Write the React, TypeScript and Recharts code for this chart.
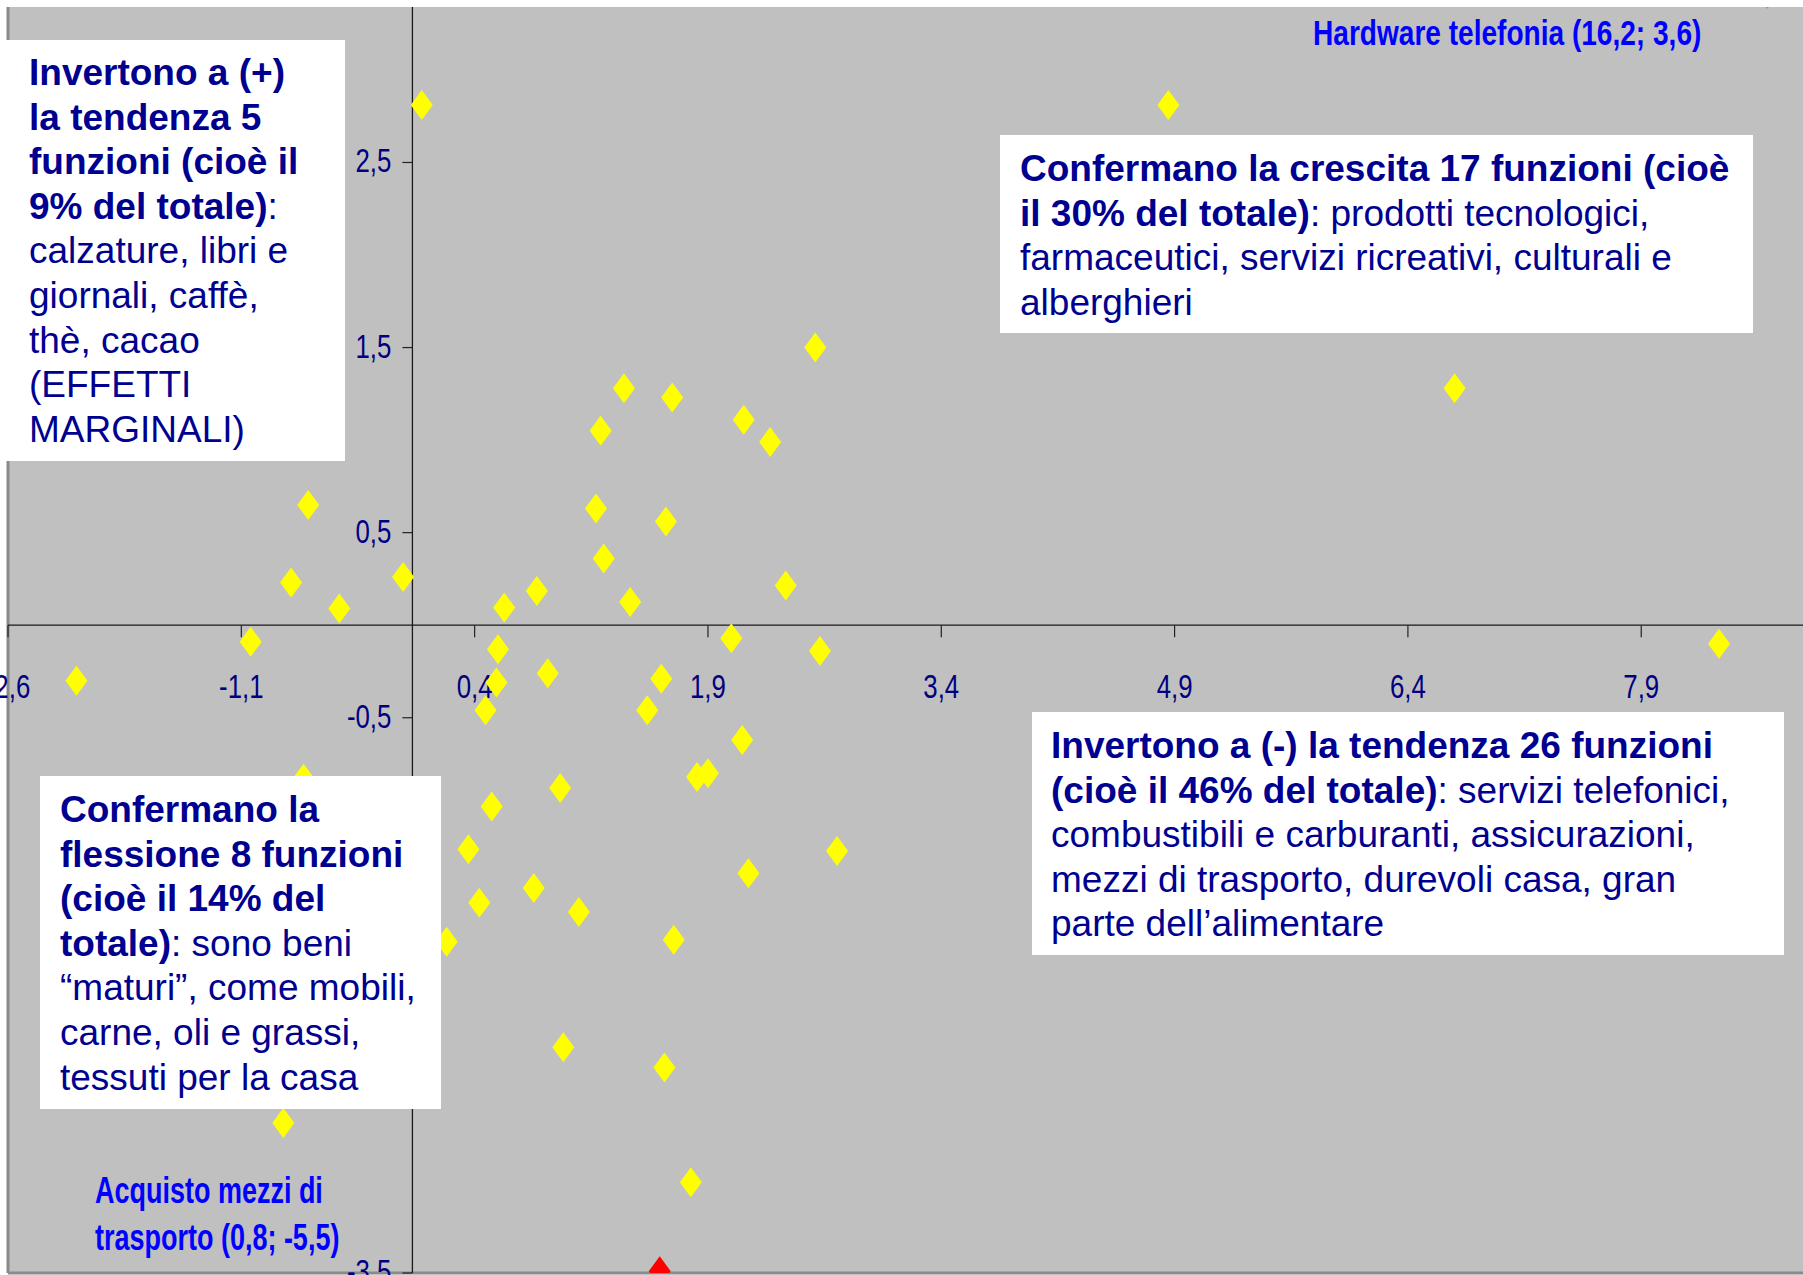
import React from 'react';
import {
  ScatterChart,
  Scatter,
  XAxis,
  YAxis,
  CartesianGrid,
  ReferenceLine,
  ReferenceDot,
} from 'recharts';

// ---- data ----
const xTickValues = [-2.6, -1.1, 0.4, 1.9, 3.4, 4.9, 6.4, 7.9];
const yTickValues = [2.5, 1.5, 0.5, -0.5, -1.5, -2.5, -3.5];

const yellowX = [
  0.06, 4.86, 2.59, 6.7, 1.36, 1.67, 1.21, 2.13, 2.3, 1.18, 1.63, 1.23, -0.06, 0.8, 0.59, 1.4, 2.4,
  -0.67, -0.78, -0.47, -1.04, -2.16, -0.7, -0.83,
  2.05, 2.62, 0.55, 0.87, 0.54, 1.6, 0.47, 1.51, 2.12, 1.83, 1.9, 0.95, 0.51, 0.36, 2.73, 2.16,
  0.78, 0.43, 1.07, 0.22, 1.68, 0.97, 1.62, 1.79, 8.4,
];
const yellowY = [
  2.81, 2.81, 1.5, 1.28, 1.28, 1.23, 1.05, 1.11, 0.99, 0.63, 0.56, 0.36, 0.26, 0.185, 0.095, 0.125, 0.215,
  0.65, 0.23, 0.09, -0.09, -0.3, -0.83, -2.69,
  -0.07, -0.14, -0.13, -0.26, -0.31, -0.29, -0.46, -0.46, -0.62, -0.82, -0.8, -0.88, -0.98, -1.21, -1.22, -1.34,
  -1.42, -1.5, -1.55, -1.71, -1.7, -2.28, -2.39, -3.01, -0.1,
];
const redX = [1.59];
const redY = [-3.49];
const greenX = [8.71];
const greenY = [3.41];

const X_DOMAIN: [number, number] = [-2.6, 8.94];
const Y_DOMAIN: [number, number] = [-3.5, 3.34];

const yellowData = yellowX.map((x, i) => ({ x, y: yellowY[i] }));
const redData = redX.map((x, i) => ({ x, y: redY[i] }));
const greenData = greenX.map((x, i) => ({ x, y: greenY[i] }));

const fmt = (v: number) => v.toFixed(1).replace('.', ',');

// ---- styles ----
const W = 1803;
const H = 1275;
const NAVY = '#000090';
const TICK_NAVY = '#000080';
const BLUE = '#0000FF';
const FONT = "'Liberation Sans', Arial, Helvetica, sans-serif";

const makeDiamond = (fill: string) => (p: any) => {
  const { cx, cy } = p;
  if (cx == null || cy == null) return <g />;
  return (
    <polygon
      points={`${cx},${cy - 15} ${cx + 11},${cy} ${cx},${cy + 15} ${cx - 11},${cy}`}
      fill={fill}
      stroke="none"
    />
  );
};

const XTickShape = ({ cx, cy, value }: any) => (
  <g>
    <line x1={cx} y1={cy} x2={cx} y2={cy + 12} stroke="#222" strokeWidth={1.2} />
    <text
      transform={`translate(${cx},${cy + 73}) scale(0.76,1)`}
      textAnchor="middle"
      fontFamily={FONT}
      fontSize={34}
      fill={TICK_NAVY}
    >
      {fmt(value)}
    </text>
  </g>
);

const YTickShape = ({ cx, cy, value }: any) => (
  <g>
    <line x1={cx - 10} y1={cy} x2={cx} y2={cy} stroke="#222" strokeWidth={1.2} />
    <text
      transform={`translate(${cx - 21},${cy + 10}) scale(0.76,1)`}
      textAnchor="end"
      fontFamily={FONT}
      fontSize={34}
      fill={TICK_NAVY}
    >
      {fmt(value)}
    </text>
  </g>
);

type Line = [string, string];

const box1: Line[] = [
  ['Invertono a (+)', ''],
  ['la tendenza 5', ''],
  ['funzioni (cioè il', ''],
  ['9% del totale)', ':'],
  ['', 'calzature, libri e'],
  ['', 'giornali, caffè,'],
  ['', 'thè, cacao'],
  ['', '(EFFETTI'],
  ['', 'MARGINALI)'],
];
const box2: Line[] = [
  ['Confermano la crescita 17 funzioni (cioè', ''],
  ['il 30% del totale)', ': prodotti tecnologici,'],
  ['', 'farmaceutici, servizi ricreativi, culturali e'],
  ['', 'alberghieri'],
];
const box3: Line[] = [
  ['Invertono a (-) la tendenza 26 funzioni', ''],
  ['(cioè il 46% del totale)', ': servizi telefonici,'],
  ['', 'combustibili e carburanti, assicurazioni,'],
  ['', 'mezzi di trasporto, durevoli casa, gran'],
  ['', 'parte dell’alimentare'],
];
const box4: Line[] = [
  ['Confermano la', ''],
  ['flessione 8 funzioni', ''],
  ['(cioè il 14% del', ''],
  ['totale)', ': sono beni'],
  ['', '“maturi”, come mobili,'],
  ['', 'carne, oli e grassi,'],
  ['', 'tessuti per la casa'],
];

const TextBox = ({
  x, y, w, h, tx, ty, lines,
}: { x: number; y: number; w: number; h: number; tx: number; ty: number; lines: Line[] }) => (
  <g>
    <rect x={x} y={y} width={w} height={h} fill="#FFFFFF" />
    {lines.map((ln, i) => (
      <text key={i} x={tx} y={ty + i * 44.6} fontFamily={FONT} fontSize={37} fill={NAVY}>
        {ln[0] ? <tspan fontWeight="bold">{ln[0]}</tspan> : null}
        {ln[1] ? <tspan>{ln[1]}</tspan> : null}
      </text>
    ))}
  </g>
);

const NarrowLabel = ({ x, y, text, sx }: { x: number; y: number; text: string; sx: number }) => (
  <text
    transform={`translate(${x},${y}) scale(${sx},1)`}
    fontFamily={FONT}
    fontSize={36}
    fontWeight="bold"
    fill={BLUE}
  >
    {text}
  </text>
);

export default function App() {
  return (
    <div
      style={{
        position: 'absolute',
        left: 0,
        top: 0,
        width: W,
        height: H,
        overflow: 'hidden',
        background: '#FFFFFF',
      }}
    >
      <ScatterChart width={W} height={H} margin={{ top: 7, right: 0, bottom: 2, left: 8 }}>
        <CartesianGrid horizontal={false} vertical={false} fill="#C0C0C0" stroke="none" />
        <XAxis type="number" dataKey="x" domain={X_DOMAIN} allowDataOverflow hide />
        <YAxis type="number" dataKey="y" domain={Y_DOMAIN} allowDataOverflow hide />
        <ReferenceLine x={X_DOMAIN[0]} stroke="#8A8A8A" strokeWidth={3} ifOverflow="visible" />
        <ReferenceLine y={Y_DOMAIN[0]} stroke="#8A8A8A" strokeWidth={3} ifOverflow="visible" />
        <ReferenceLine x={0} stroke="#1a1a1a" strokeWidth={1.3} />
        <ReferenceLine y={0} stroke="#1a1a1a" strokeWidth={1.3} />
        {xTickValues.map((t) => (
          <ReferenceDot
            key={'xt' + t}
            x={t}
            y={0}
            r={0}
            ifOverflow="visible"
            shape={(p: any) => <XTickShape cx={p.cx} cy={p.cy} value={t} />}
          />
        ))}
        {yTickValues.map((t) => (
          <ReferenceDot
            key={'yt' + t}
            x={0}
            y={t}
            r={0}
            ifOverflow="visible"
            shape={(p: any) => <YTickShape cx={p.cx} cy={p.cy} value={t} />}
          />
        ))}
        <Scatter data={yellowData} fill="#FFFF00" shape={makeDiamond('#FFFF00')} isAnimationActive={false} />
        <Scatter data={redData} fill="#FF0000" shape={makeDiamond('#FF0000')} isAnimationActive={false} />
        <Scatter data={greenData} fill="#00FF00" shape={makeDiamond('#00FF00')} isAnimationActive={false} />
      </ScatterChart>
      <svg
        width={W}
        height={H}
        style={{ position: 'absolute', left: 0, top: 0, pointerEvents: 'none' }}
      >
        <TextBox x={0} y={40} w={345} h={421} tx={29} ty={85} lines={box1} />
        <TextBox x={1000} y={135} w={753} h={198} tx={1020} ty={181} lines={box2} />
        <TextBox x={1032} y={712} w={752} h={243} tx={1051} ty={758} lines={box3} />
        <TextBox x={40} y={776} w={401} h={333} tx={60} ty={822} lines={box4} />
        <NarrowLabel x={1313} y={45} sx={0.78} text="Hardware telefonia (16,2; 3,6)" />
        <NarrowLabel x={95} y={1203} sx={0.75} text="Acquisto mezzi di" />
        <NarrowLabel x={95} y={1250} sx={0.75} text="trasporto (0,8; -5,5)" />
      </svg>
    </div>
  );
}
